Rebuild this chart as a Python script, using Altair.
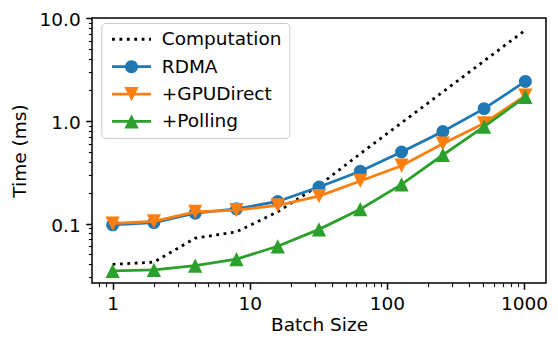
import altair as alt
import pandas as pd

# ---- data ----
batch = [1, 2, 4, 8, 16, 32, 64, 128, 256, 512, 1024]
computation = [0.040, 0.042, 0.072, 0.083, 0.130, 0.235, 0.48, 0.96, 1.92, 3.85, 7.7]
rdma = [0.097, 0.102, 0.126, 0.139, 0.164, 0.227, 0.323, 0.498, 0.79, 1.32, 2.43]
gpudirect = [0.100, 0.105, 0.130, 0.135, 0.150, 0.185, 0.26, 0.366, 0.60, 0.95, 1.77]
polling = [0.0345, 0.0353, 0.0388, 0.045, 0.060, 0.0877, 0.138, 0.241, 0.466, 0.88, 1.72]

series_names = ["Computation", "RDMA", "+GPUDirect", "+Polling"]
series_colors = ["black", "#1f77b4", "#ff7f0e", "#2ca02c"]

x_major = [1, 10, 100, 1000]
y_major = [0.1, 1, 10]
x_minor = [0.8, 0.9] + [k * 10 ** e for e in range(0, 3) for k in range(2, 10)]
y_minor = [round(k * 0.01, 3) for k in range(3, 10)] + [round(k * 0.1, 2) for k in range(2, 10)] + list(range(2, 10))

rows = []
for name, vals in zip(series_names, [computation, rdma, gpudirect, polling]):
    for b, v in zip(batch, vals):
        rows.append({"series": name, "batch": b, "time": v})
df = pd.DataFrame(rows)

FONT = "DejaVu Sans"
FS = 18.5
LW = 2.8
W, H = 454, 265

xscale = alt.Scale(type="log", domain=[0.707, 1448], nice=False)
yscale = alt.Scale(type="log", domain=[0.0263, 10.1], nice=False)


def xenc(axis=None):
    return alt.X("batch:Q", scale=xscale, axis=axis)


def yenc(axis=None):
    return alt.Y("time:Q", scale=yscale, axis=axis)


minor_x_axis = alt.Axis(orient="bottom", values=x_minor, labels=False, tickSize=3.6,
                        tickWidth=1.1, domain=False, grid=False, title=None)
minor_y_axis = alt.Axis(orient="left", values=y_minor, labels=False, tickSize=3.6,
                        tickWidth=1.1, domain=False, grid=False, title=None)
major_x_axis = alt.Axis(orient="bottom", values=x_major, format="d", tickSize=6.3,
                        tickWidth=1.5, labelPadding=4.8, domain=False, grid=False,
                        labelFlush=False, labelOverlap=False,
                        title="Batch Size", titleX=W / 2, titleY=47.5,
                        titleBaseline="alphabetic", titleAlign="center")
major_y_axis = alt.Axis(orient="left", values=y_major, format=".1f", tickSize=6.3,
                        tickWidth=1.5, labelPadding=5.5, labelOffset=1.5, domain=False,
                        grid=False, labelFlush=False, labelOverlap=False,
                        title="Time (ms)", titleX=-66.4, titleY=H / 2, titleAngle=270,
                        titleBaseline="alphabetic", titleAlign="center")

base = alt.Chart(df)

# marker shapes for the plot (matplotlib-like triangles: width == height)
tri_down = "M-1.1,-1.1H1.1L0,1.1Z"
tri_up = "M0,-1.1L1.1,1.1H-1.1Z"
MSIZE = 168

layers = []
# Computation: dotted black line (carries the minor-tick axes)
layers.append(
    base.transform_filter(alt.datum.series == "Computation")
    .mark_line(color="black", strokeWidth=LW, strokeDash=[2.78, 4.58], strokeCap="butt")
    .encode(x=xenc(minor_x_axis), y=yenc(minor_y_axis))
)
for name, col, shp in [("RDMA", "#1f77b4", "circle"),
                       ("+GPUDirect", "#ff7f0e", tri_down),
                       ("+Polling", "#2ca02c", tri_up)]:
    sub = base.transform_filter(alt.datum.series == name)
    layers.append(sub.mark_line(color=col, strokeWidth=LW).encode(x=xenc(), y=yenc()))
    layers.append(sub.mark_point(color=col, filled=True, opacity=1, size=MSIZE,
                                 shape=shp, strokeWidth=0)
                  .encode(x=xenc(), y=yenc()))

# legend symbols: line + marker combined in a single path (unit = 5 px at size 100)
def rect(x0, x1, h=0.28):
    return f"M{x0},{-h}H{x1}V{h}H{x0}Z"

line_part = rect(-3.9, 3.9)
dots = " ".join(rect(a, b) for a, b in [(-3.9, -3.34), (-2.42, -1.86), (-0.94, -0.38),
                                        (0.54, 1.1), (2.02, 2.58), (3.5, 3.9)])
leg_circle = line_part + " M1.3,0A1.3,1.3 0 1,1 -1.3,0A1.3,1.3 0 1,1 1.3,0Z"
leg_down = line_part + " M-1.43,-1.43H1.43L0,1.43Z"
leg_up = line_part + " M0,-1.43L1.43,1.43H-1.43Z"

legend = alt.Legend(title=None, orient="none", legendX=9.3, legendY=5, padding=7,
                    rowPadding=8.4, symbolSize=100, symbolStrokeWidth=0, symbolOffset=14,
                    labelOffset=21, labelFont=FONT, labelFontSize=FS, labelColor="black",
                    fillColor="rgba(255,255,255,0.8)", strokeColor="#cccccc",
                    cornerRadius=4, symbolOpacity=1)

layers.append(
    base.mark_point(filled=True, opacity=0, size=10)
    .encode(
        x=xenc(major_x_axis), y=yenc(major_y_axis),
        color=alt.Color("series:N", scale=alt.Scale(domain=series_names, range=series_colors),
                        legend=legend),
        shape=alt.Shape("series:N", scale=alt.Scale(domain=series_names,
                                                    range=[dots, leg_circle, leg_down, leg_up]),
                        legend=legend),
    )
)

chart = (
    alt.layer(*layers)
    .resolve_axis(x="independent", y="independent")
    .properties(width=W, height=H,
                autosize=alt.AutoSizeParams(type="none"),
                padding={"left": 84, "top": 10, "right": 4, "bottom": 52})
    .configure_view(stroke="black", strokeWidth=1.5)
    .configure_axis(labelFont=FONT, titleFont=FONT, labelFontSize=FS, titleFontSize=FS,
                    labelColor="black", titleColor="black", titleFontWeight="normal",
                    tickColor="black")
)

chart.save("out.html", embed_options={"renderer": "svg", "actions": False})
